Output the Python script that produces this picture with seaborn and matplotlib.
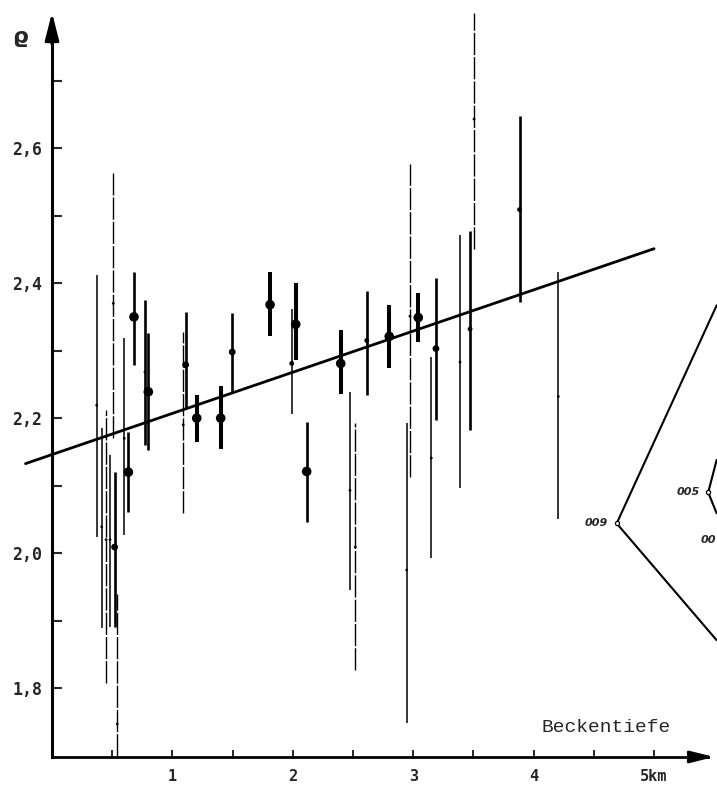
import numpy as np
import pandas as pd
import seaborn as sns
import matplotlib.pyplot as plt

# Beckentiefe (km), Dichte, Fehlerbalken unten/oben
depth = [0.371, 0.413, 0.449, 0.482, 0.509, 0.520, 0.542, 0.600, 0.634, 0.681,
         0.772, 0.800, 1.090, 1.110, 1.202, 1.401, 1.497, 1.811, 1.991, 2.024,
         2.115, 2.398, 2.475, 2.519, 2.614, 2.801, 2.946, 2.973, 3.042, 3.150,
         3.189, 3.389, 3.472, 3.505, 3.883, 4.205]
rho = [2.219, 2.039, 2.020, 2.020, 2.370, 2.009, 1.747, 2.170, 2.120, 2.350,
       2.268, 2.239, 2.190, 2.279, 2.200, 2.200, 2.298, 2.368, 2.281, 2.339,
       2.121, 2.281, 2.093, 2.009, 2.315, 2.321, 1.975, 2.351, 2.349, 2.141,
       2.303, 2.283, 2.332, 2.643, 2.509, 2.232]
rho_lo = [2.024, 1.889, 1.807, 1.890, 2.170, 1.890, 1.700, 2.027, 2.061, 2.279,
          2.160, 2.153, 2.060, 2.215, 2.165, 2.154, 2.237, 2.321, 2.206, 2.286,
          2.046, 2.236, 1.945, 1.827, 2.234, 2.274, 1.748, 2.113, 2.313, 1.993,
          2.197, 2.096, 2.182, 2.451, 2.372, 2.051]
rho_hi = [2.412, 2.185, 2.212, 2.145, 2.563, 2.120, 1.940, 2.319, 2.179, 2.416,
          2.375, 2.326, 2.328, 2.357, 2.234, 2.247, 2.356, 2.417, 2.361, 2.400,
          2.195, 2.330, 2.239, 2.193, 2.388, 2.368, 2.193, 2.576, 2.386, 2.291,
          2.407, 2.471, 2.477, 2.800, 2.647, 2.417]
# 0 = dünn unterbrochen, 1 = dünn, 2 = mittel, 3 = kräftig
weight = [1, 1, 0, 1, 0, 2, 0, 1, 2, 2,
          2, 2, 0, 2, 3, 3, 2, 3, 1, 3,
          2, 3, 1, 0, 2, 3, 1, 0, 3, 1,
          2, 1, 2, 0, 2, 1]
# Punktgröße 0..3
dot = [0, 0, 0, 0, 0, 2, 0, 0, 3, 3,
       0, 3, 0, 2, 3, 3, 2, 3, 1, 3,
       3, 3, 0, 0, 1, 3, 0, 0, 3, 0,
       2, 0, 1, 0, 1, 0]

# Regressionsgerade
fit_intercept = 2.146
fit_slope = 0.061
fit_x = [-0.22, 5.0]

# Ausschnitt der Nebenfigur rechts
outer_x = [5.52, 4.69, 5.52]
outer_y = [2.367, 2.044, 1.871]
inner_x = [5.52, 5.45, 5.52]
inner_y = [2.138, 2.090, 2.059]
inset_labels = ["009", "005", "00"]
inset_lx = [4.615, 5.38, 5.515]
inset_ly = [2.044, 2.090, 2.019]

y_ticks = [1.8, 2.0, 2.2, 2.4, 2.6]
y_labels = ["1,8", "2,0", "2,2", "2,4", "2,6"]
y_minor = [1.9, 2.1, 2.3, 2.5, 2.7]
x_ticks = [1, 2, 3, 4, 5]
x_labels = ["1", "2", "3", "4", "5km"]
x_minor = [0.5, 1.5, 2.5, 3.5, 4.5]

df = pd.DataFrame({"depth": depth, "rho": rho, "lo": rho_lo, "hi": rho_hi,
                   "weight": weight, "dot": dot})

sns.set_style("white")
plt.rcParams["font.family"] = ["DejaVu Sans Mono", "DejaVu Sans"]

fig = plt.figure(figsize=(7.17, 7.89), dpi=100)
ax = fig.add_axes([0.0307, 0.0406, 0.9693, 0.9513])
ax.set_xlim(-0.249, 5.523)
ax.set_ylim(1.698, 2.81)

# Fehlerbalken nach Strichstärke
styles = {0: (1.0, (0, (16, 1.5))), 1: (1.1, "solid"), 2: (1.9, "solid"), 3: (2.9, "solid")}
for w, (lw, ls) in styles.items():
    sub = df[df["weight"] == w]
    ax.vlines(sub["depth"], sub["lo"], sub["hi"], colors="black", linewidth=lw, linestyles=ls)

sns.scatterplot(data=df, x="depth", y="rho", size="dot", sizes={0: 4, 1: 12, 2: 24, 3: 48},
                color="black", linewidth=0, legend=False, ax=ax, zorder=3)

line_x = np.array(fit_x)
sns.lineplot(x=line_x, y=fit_intercept + fit_slope * line_x, color="black", linewidth=2.0, ax=ax)

ax.plot(outer_x, outer_y, color="black", linewidth=1.5, clip_on=False)
ax.plot(inner_x, inner_y, color="black", linewidth=1.5, clip_on=False)
ax.plot([outer_x[1], inner_x[1]], [outer_y[1], inner_y[1]], "o", mfc="white", mec="black",
        ms=3, mew=0.9)
for t, lx, ly in zip(inset_labels, inset_lx, inset_ly):
    ax.text(lx, ly, t, fontsize=8, style="italic", fontweight="bold", family="DejaVu Sans",
            ha="right", va="center")

# Achsen
for s in ["top", "right"]:
    ax.spines[s].set_visible(False)
ax.spines["left"].set_position(("data", 0))
ax.spines["left"].set_bounds(1.698, 2.77)
ax.spines["bottom"].set_bounds(0, 5.45)
ax.spines["left"].set_linewidth(2.2)
ax.spines["bottom"].set_linewidth(2.0)
ax.spines["left"].set_color("black")
ax.spines["bottom"].set_color("black")

ax.set_yticks(y_ticks)
ax.set_yticklabels(y_labels)
ax.set_yticks(y_minor, minor=True)
ax.set_xticks(x_ticks)
ax.set_xticklabels(x_labels)
ax.set_xticks(x_minor, minor=True)
ax.tick_params(axis="y", which="both", direction="in", length=7, width=1.5, pad=7,
               left=True, labelsize=12)
ax.tick_params(axis="x", which="both", direction="in", length=5, width=1.4, pad=9,
               bottom=True, labelsize=11)
for lab in ax.get_xticklabels() + ax.get_yticklabels():
    lab.set_fontweight("bold")
ax.set_xlabel("")
ax.set_ylabel("")

ax.annotate("", xy=(0, 2.805), xytext=(0, 2.75),
            arrowprops=dict(arrowstyle="-|>,head_length=1.65,head_width=0.42",
                            color="black", lw=2.2), annotation_clip=False)
ax.annotate("", xy=(5.523, 1.698), xytext=(5.35, 1.698),
            arrowprops=dict(arrowstyle="-|>,head_length=1.45,head_width=0.36",
                            color="black", lw=2.0), annotation_clip=False)

fig.text(20 / 717, 1 - 37 / 789, "ϱ", fontsize=16, fontweight="bold", family="DejaVu Sans",
         ha="center", va="center")
ax.text(4.60, 1.742, "Beckentiefe", fontsize=14, family="Liberation Mono", ha="center", va="center")

fig.savefig("out.png", dpi=100)
